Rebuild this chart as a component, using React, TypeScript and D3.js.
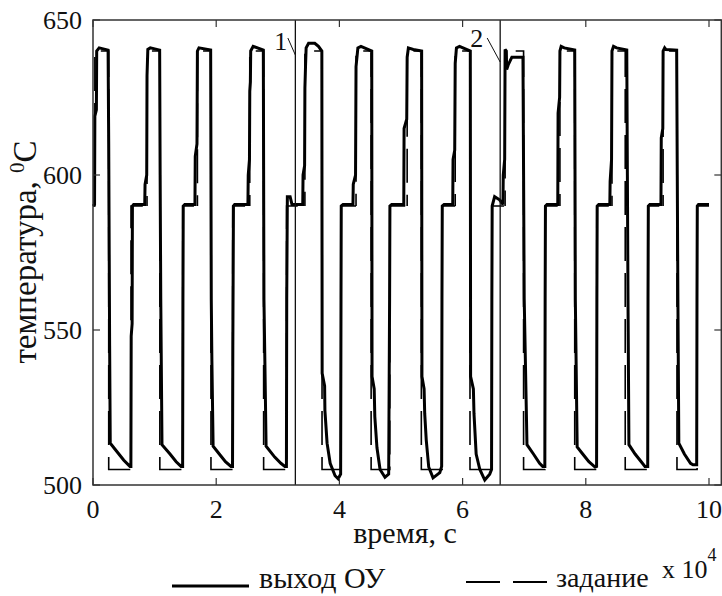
import React from "react";
import * as d3 from "d3";

type Pt = [number, number];

const xTicks = [0, 2, 4, 6, 8, 10];
const yTicks = [500, 550, 600, 650];

// выход ОУ (время в 10^4 с, температура), участок до линии 1
const outputSeg1: Pt[] = [
  [0, 590], [0.025, 590.5], [0.03, 619], [0.055, 621], [0.06, 640], [0.1, 641], [0.245, 640.3],
  [0.255, 610], [0.27, 545], [0.28, 513.5], [0.4, 510.5], [0.5, 508], [0.6, 506], [0.615, 506],
  [0.62, 548], [0.635, 552], [0.64, 590], [0.66, 590.5], [0.84, 590.5],
  [0.845, 597], [0.872, 600], [0.877, 632], [0.89, 640.5], [0.93, 641], [1.082, 640.3],
  [1.09, 600], [1.1, 560], [1.12, 513], [1.25, 510], [1.35, 507.5], [1.43, 506], [1.455, 506],
  [1.46, 560], [1.465, 590], [1.49, 590.5], [1.655, 590.5],
  [1.66, 606], [1.688, 610], [1.695, 640], [1.72, 641], [1.91, 640.3],
  [1.92, 560], [1.93, 540], [1.95, 512.5], [2.05, 510], [2.15, 507.5], [2.24, 506], [2.265, 506],
  [2.27, 545], [2.28, 590], [2.3, 590.5], [2.515, 590.5],
  [2.52, 600], [2.54, 605], [2.545, 627], [2.555, 630], [2.56, 640], [2.6, 641.5], [2.765, 640.3],
  [2.775, 560], [2.79, 540], [2.81, 512.5], [2.95, 509], [3.05, 507], [3.115, 506], [3.14, 506],
  [3.145, 560], [3.155, 593], [3.2, 593], [3.23, 590.5], [3.405, 590.5],
];

// участок между линиями 1 и 2
const outputSeg2: Pt[] = [
  [3.41, 600], [3.435, 603], [3.44, 628], [3.45, 635], [3.46, 641], [3.5, 642.5], [3.6, 642.5], [3.66, 641.5], [3.715, 640],
  [3.72, 536], [3.76, 532], [3.765, 524], [3.8, 513.5], [3.85, 507], [3.93, 503], [3.98, 502], [4.02, 503.5],
  [4.026, 560], [4.03, 590], [4.06, 590.5], [4.22, 590.5],
  [4.225, 597], [4.262, 600], [4.27, 635], [4.3, 641], [4.35, 641.5], [4.525, 640],
  [4.53, 535], [4.565, 531], [4.575, 522], [4.61, 512], [4.66, 505], [4.74, 502.5], [4.8, 503.5],
  [4.815, 560], [4.82, 590], [4.85, 590.5], [5.045, 590.5],
  [5.05, 615], [5.093, 618], [5.1, 638], [5.12, 641], [5.2, 640.5], [5.335, 640],
  [5.34, 535], [5.375, 531], [5.385, 523], [5.41, 514.5], [5.45, 505.8], [5.52, 502.3], [5.63, 504], [5.66, 506],
  [5.665, 560], [5.67, 590], [5.7, 590.5], [5.84, 590.5],
  [5.845, 605], [5.872, 608], [5.88, 636], [5.9, 641], [5.95, 641.5], [6.125, 640],
  [6.13, 535], [6.175, 531], [6.185, 523], [6.22, 510], [6.28, 505], [6.36, 501.6], [6.44, 503.5], [6.47, 505],
  [6.475, 560], [6.48, 590], [6.52, 593], [6.6, 592], [6.655, 590.5],
];

// участок после линии 2
const outputSeg3: Pt[] = [
  [6.66, 600], [6.683, 605], [6.69, 640.5], [6.71, 640], [6.715, 634], [6.74, 635.5], [6.8, 638], [6.98, 638],
  [6.99, 600], [7.0, 560], [7.045, 513], [7.15, 510], [7.25, 507], [7.3, 506], [7.335, 506],
  [7.34, 560], [7.345, 590], [7.37, 590.5], [7.545, 590.5],
  [7.55, 620], [7.575, 625], [7.58, 640], [7.6, 641.5], [7.65, 641], [7.82, 640.3],
  [7.83, 560], [7.86, 512.3], [7.95, 510], [8.05, 507.5], [8.15, 505.8], [8.175, 506],
  [8.18, 560], [8.185, 590], [8.21, 590.5], [8.39, 590.5],
  [8.395, 598], [8.418, 605], [8.425, 640], [8.45, 641.5], [8.5, 641], [8.665, 640.3],
  [8.675, 600], [8.685, 560], [8.7, 513], [8.8, 510], [8.9, 507.5], [8.96, 506], [9.005, 506],
  [9.01, 560], [9.015, 590], [9.04, 590.5], [9.22, 590.5],
  [9.225, 612], [9.25, 615], [9.255, 640], [9.28, 641], [9.3, 640.5], [9.475, 640.3],
  [9.485, 600], [9.495, 560], [9.51, 513.5], [9.6, 510], [9.7, 507], [9.74, 506.5], [9.8, 506.5],
  [9.805, 560], [9.81, 590], [9.83, 590.5], [10.0, 590.5],
];

// задание: уровни и моменты переключений
const spMid = 590;
const spHigh = 640;
const spLow = 505;
const spUpT = [0.03, 0.877, 1.695, 2.545, 3.44, 4.27, 5.1, 5.88, 6.69, 7.58, 8.425, 9.255];
const spDownT = [0.255, 1.085, 1.915, 2.77, 3.718, 4.515, 5.33, 6.12, 6.99, 7.82, 8.64, 9.48];
const spBackT = [0.617, 1.457, 2.268, 3.143, 4.027, 4.818, 5.668, 6.478, 7.338, 8.178, 9.008, 9.807];
const tEnd = 10;

const markerT = [3.285, 6.61];
const markerLabels = ["1", "2"];

const serif = { fontFamily: '"Liberation Serif", "Times New Roman", "DejaVu Serif", serif' };

export default function App() {
  const width = 722;
  const height = 596;
  const left = 93;
  const top = 20;
  const bottom = 485;

  const x = d3.scaleLinear().domain([0, 10.2]).range([left, left + 10.2 * 61.6]);
  const y = d3.scaleLinear().domain([500, 650]).range([bottom, top]);
  const right = x(10.2);

  const line = d3
    .line<Pt>()
    .x((d) => x(d[0]))
    .y((d) => y(d[1]));

  const output = [...outputSeg1, ...outputSeg2, ...outputSeg3];

  const dash = [34, 12];
  const setCycles = spUpT.map((tu, i) => {
    const start = i === 0 ? 0 : tu;
    const end = i < spUpT.length - 1 ? spUpT[i + 1] : tEnd;
    const pts: Pt[] = [
      [start, spMid],
      [tu, spMid],
      [tu, spHigh],
      [spDownT[i], spHigh],
      [spDownT[i], spLow],
      [spBackT[i], spLow],
      [spBackT[i], spMid],
      [end, spMid],
    ];
    // длина пути до начала видимого штриха у нижней полки
    let s = 0;
    for (let k = 1; k <= 3; k++) {
      s += Math.hypot(x(pts[k][0]) - x(pts[k - 1][0]), y(pts[k][1]) - y(pts[k - 1][1]));
    }
    s += y(509) - y(spHigh);
    return { pts, offset: -s };
  });

  const tick = 7;

  return (
    <svg
      width={width}
      height={height}
      style={{ position: "absolute", left: 0, top: 0, background: "#fff" }}
    >
      <rect x={0} y={0} width={width} height={height} fill="#fff" />

      {/* данные */}
      <path
        d={line(output) ?? ""}
        fill="none"
        stroke="#000"
        strokeWidth={3}
        strokeLinejoin="miter"
        strokeMiterlimit={2}
      />
      {setCycles.map((c, i) => (
        <path
          key={i}
          d={line(c.pts) ?? ""}
          fill="none"
          stroke="#000"
          strokeWidth={1.6}
          strokeDasharray={dash.join(" ")}
          strokeDashoffset={c.offset}
        />
      ))}

      {/* вертикальные линии 1 и 2 */}
      {markerT.map((t, i) => (
        <g key={i}>
          <line x1={x(t)} x2={x(t)} y1={top} y2={bottom} stroke="#111" strokeWidth={1.3} />
          <text
            x={x(t) - (i === 0 ? 8 : 17)}
            y={i === 0 ? 50 : 47}
            textAnchor="end"
            fontSize={26}
            fill="#111"
            style={serif}
          >
            {markerLabels[i]}
          </text>
          <line
            x1={x(t) - (i === 0 ? 7.5 : 13)}
            y1={38}
            x2={x(t)}
            y2={i === 0 ? 55 : 62}
            stroke="#111"
            strokeWidth={1}
          />
        </g>
      ))}

      {/* рамка */}
      <rect x={left} y={top} width={right - left} height={bottom - top} fill="none" stroke="#333" strokeWidth={1.5} />

      {xTicks.map((t) => (
        <g key={`x${t}`}>
          <line x1={x(t)} x2={x(t)} y1={bottom} y2={bottom - tick} stroke="#333" strokeWidth={1.2} />
          <line x1={x(t)} x2={x(t)} y1={top} y2={top + tick} stroke="#333" strokeWidth={1.2} />
          <text x={x(t)} y={518} textAnchor="middle" fontSize={26} fill="#111" style={serif}>
            {t}
          </text>
        </g>
      ))}
      {yTicks.map((t) => (
        <g key={`y${t}`}>
          <line x1={left} x2={left + tick} y1={y(t)} y2={y(t)} stroke="#333" strokeWidth={1.2} />
          <line x1={right} x2={right - tick} y1={y(t)} y2={y(t)} stroke="#333" strokeWidth={1.2} />
          <text x={82} y={y(t) + 8.5} textAnchor="end" fontSize={26} fill="#111" style={serif}>
            {t}
          </text>
        </g>
      ))}

      {/* подписи осей */}
      <text x={405} y={543} textAnchor="middle" fontSize={30} fill="#111" style={serif}>
        время, с
      </text>
      <text
        transform={`translate(36, 252) rotate(-90)`}
        textAnchor="middle"
        fontSize={33}
        fill="#111"
        style={serif}
      >
        температура,{" "}
        <tspan fontSize={21} dy={-12}>
          0
        </tspan>
        <tspan dy={12}>C</tspan>
      </text>
      <text x={662} y={578} fontSize={26} fill="#111" style={serif}>
        x 10
        <tspan fontSize={18} dy={-17}>
          4
        </tspan>
      </text>

      {/* легенда */}
      <line x1={172} x2={249} y1={586} y2={586} stroke="#000" strokeWidth={3} />
      <text x={259} y={588} fontSize={30} fill="#111" style={serif}>
        выход ОУ
      </text>
      <line x1={466} x2={547} y1={582} y2={582} stroke="#000" strokeWidth={2} strokeDasharray="34 13" />
      <text x={556} y={587} fontSize={28} fill="#111" style={serif}>
        задание
      </text>
    </svg>
  );
}
